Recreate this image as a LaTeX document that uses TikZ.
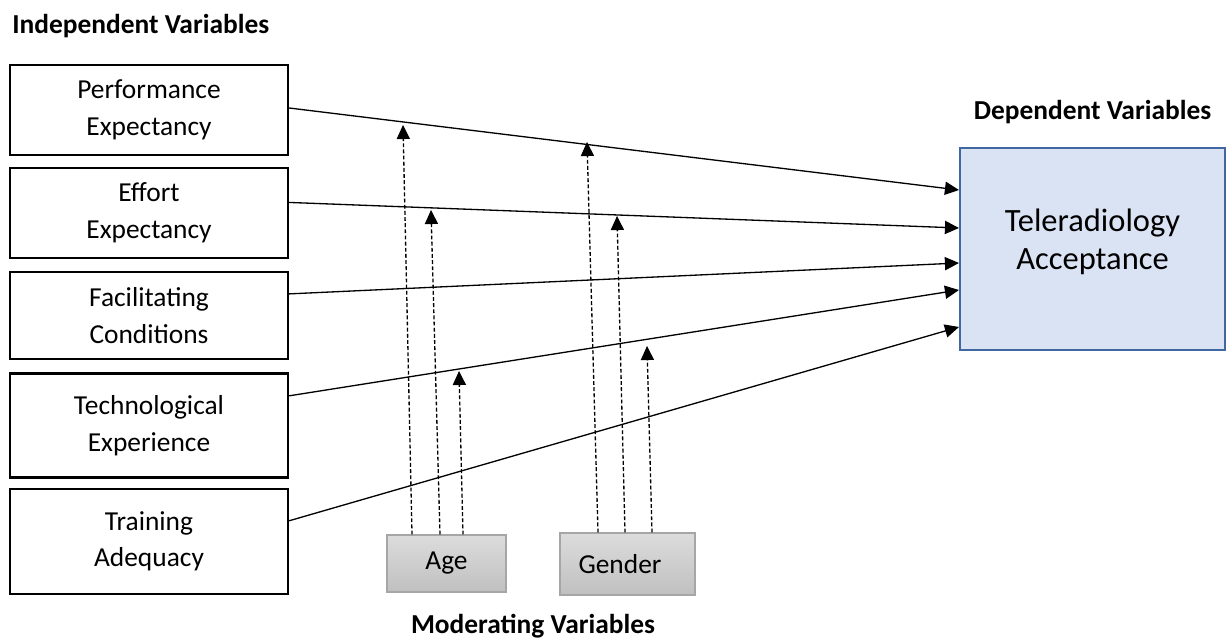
\documentclass[tikz,border=0pt]{standalone}
\usepackage{fontspec}
\setmainfont{Carlito}
\usetikzlibrary{calc, positioning, arrows.meta}
\definecolor{teleFill}{RGB}{218,227,243}
\definecolor{teleDraw}{RGB}{65,103,160}
\definecolor{modTop}{RGB}{220,220,220}
\definecolor{modBot}{RGB}{192,192,192}
\definecolor{modDraw}{RGB}{166,166,166}

\begin{document}
\begin{tikzpicture}[x=0.02cm, y=-0.02cm, >={Triangle[length=8pt,width=7.5pt]}, node distance=0.24cm,
    every node/.style={font=\fontsize{15.6}{21}\selectfont}]
  \tikzset{block/.style={draw, line width=1.4pt, minimum width=5.56cm, align=center, inner sep=2pt},
    modbox/.style={draw=modDraw, line width=0.6pt, top color=modTop, bottom color=modBot},
    head/.style={font=\fontsize{15.6}{21}\selectfont\bfseries, inner sep=0pt},
    link/.style={->, line width=0.75pt},
    modlink/.style={->, line width=0.75pt, dash pattern=on 2.2pt off 1.3pt}}
  \useasboundingbox (0,0) rectangle (1226,638);

  \node[head, anchor=west] (indep) at (12,26) {Independent Variables};
  \node[block, minimum height=1.8cm] (pe) at (149,110) {Performance\\Expectancy};
  \node[block, minimum height=1.8cm, below=0.21cm of pe] (ee) {Effort\\Expectancy};
  \node[block, minimum height=1.74cm, below=0.23cm of ee] (fc) {Facilitating\\Conditions};
  \node[block, minimum height=2.08cm, below=0.24cm of fc] (te) {Technological\\Experience};
  \node[block, minimum height=2.1cm, below=0.18cm of te] (ta) {Training\\Adequacy};

  \node[draw=teleDraw, fill=teleFill, line width=1.2pt, minimum width=5.3cm, minimum height=4.04cm,
    label={[align=center, yshift=0.14cm, font=\fontsize{18.5}{21.6}\selectfont]center:Teleradiology\\Acceptance}]
    (acc) at (1092.5,249) {};
  \node[head, above=0.46cm of acc] (dep) {Dependent Variables};

  \node[modbox, minimum width=2.38cm, minimum height=1.14cm] (age) at (446.5,563.5) {Age};
  \node[modbox, minimum width=2.7cm, minimum height=1.24cm] (gender) at (627.5,564) {Gender\hspace*{0.3cm}};
  \node[head] (mod) at (533,626) {Moderating Variables};

  % independent -> dependent
  \draw[link] ([yshift=0.04cm]pe.east) -- ([yshift=1.18cm]acc.west);
  \draw[link] ([yshift=0.21cm]ee.east) -- ([yshift=0.42cm]acc.west);
  \draw[link] ([yshift=0.43cm]fc.east) -- ([yshift=-0.28cm]acc.west);
  \draw[link] ([yshift=0.59cm]te.east) -- ([yshift=-0.82cm]acc.west);
  \draw[link] ([yshift=0.41cm]ta.east) -- ([yshift=-1.56cm]acc.west);

  % moderators
  \coordinate (a1) at (403,125);
  \coordinate (a2) at (431,210);
  \coordinate (a3) at (459,371);
  \coordinate (g1) at (587,142);
  \coordinate (g2) at (617,216);
  \coordinate (g3) at (647,346);
  \draw[modlink] ([xshift=-0.69cm]age.north) -- (a1);
  \draw[modlink] ([xshift=-0.13cm]age.north) -- (a2);
  \draw[modlink] ([xshift=0.33cm]age.north) -- (a3);
  \draw[modlink] ([xshift=-0.59cm]gender.north) -- (g1);
  \draw[modlink] ([xshift=-0.05cm]gender.north) -- (g2);
  \draw[modlink] ([xshift=0.49cm]gender.north) -- (g3);
\end{tikzpicture}
\end{document}
